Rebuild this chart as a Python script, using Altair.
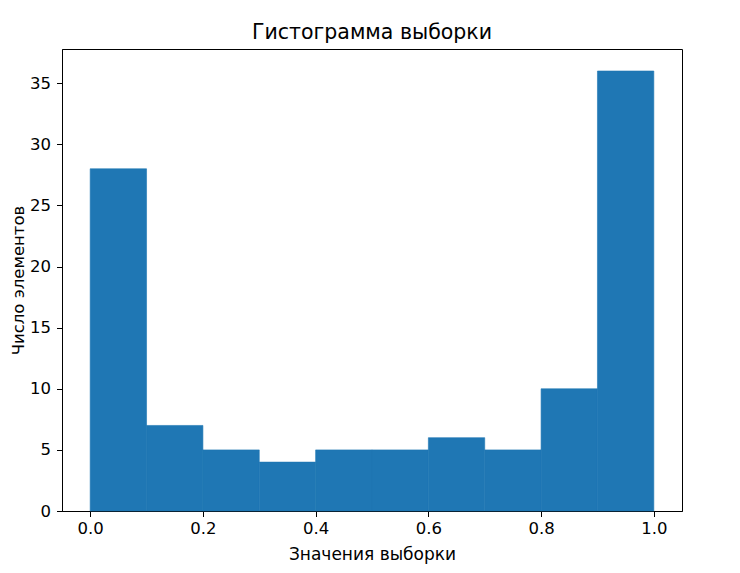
import altair as alt
import pandas as pd

bin_start = [0.0, 0.1, 0.2, 0.3, 0.4, 0.5, 0.6, 0.7, 0.8, 0.9]
bin_end = [0.1, 0.2, 0.3, 0.4, 0.5, 0.6, 0.7, 0.8, 0.9, 1.0]
counts = [28, 7, 5, 4, 5, 5, 6, 5, 10, 36]

x_ticks = [0.0, 0.2, 0.4, 0.6, 0.8, 1.0]
y_ticks = [0, 5, 10, 15, 20, 25, 30, 35]

df = pd.DataFrame({"start": bin_start, "end": bin_end, "count": counts})

font = "DejaVu Sans"

chart = alt.Chart(df).mark_rect(color="#1f77b4", stroke="#1f77b4", strokeWidth=0.6).encode(
    x=alt.X("start:Q", scale=alt.Scale(domain=[-0.05, 1.05], nice=False, zero=False),
            axis=alt.Axis(values=x_ticks, format=".1f", title="Значения выборки",
                          grid=False, tickColor="black", domainColor="black",
                          tickSize=5.5, labelFontSize=16.5, titleFontSize=17,
                          labelColor="black", titleColor="black", labelFont=font,
                          titleFont=font, titleFontWeight="normal", labelPadding=4,
                          titlePadding=9)),
    x2="end:Q",
    y=alt.Y("count:Q", scale=alt.Scale(domain=[0, 37.8], nice=False),
            axis=alt.Axis(values=y_ticks, title="Число элементов",
                          grid=False, tickColor="black", domainColor="black",
                          tickSize=5.5, labelFontSize=16.5, titleFontSize=16.5,
                          labelColor="black", titleColor="black", labelFont=font,
                          titleFont=font, titleFontWeight="normal", labelPadding=6,
                          titlePadding=3)),
    y2=alt.datum(0),
).properties(
    width=620,
    height=462,
    title=alt.TitleParams("Гистограмма выборки", font=font, fontSize=20.5,
                          fontWeight="normal", color="black", offset=6),
    autosize=alt.AutoSizeParams(type="none"),
    padding={"left": 54, "top": 41, "right": 50, "bottom": 54},
).configure_view(stroke="black", strokeWidth=1)

chart.save("out.html", embed_options={"renderer": "svg", "actions": False})
